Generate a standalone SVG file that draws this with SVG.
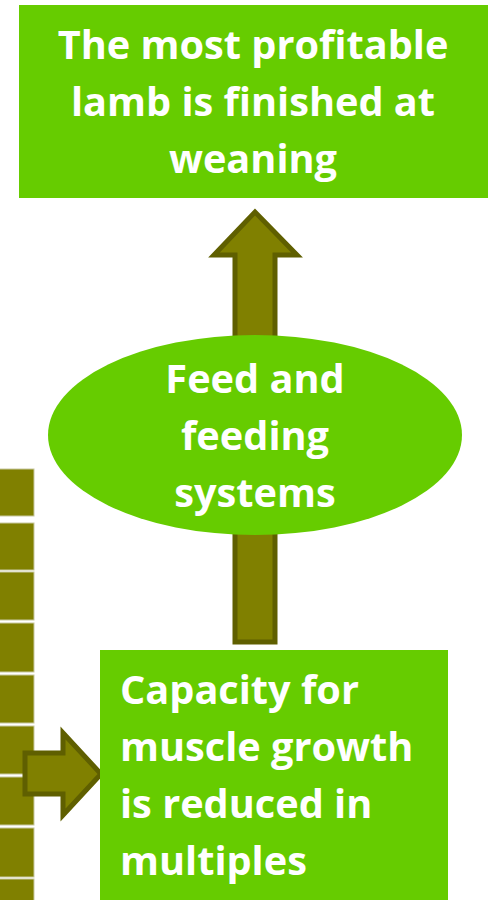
<svg xmlns="http://www.w3.org/2000/svg" width="488" height="900" viewBox="0 0 488 900">
  <style>
    .box { fill: #66cc00; }
    .label { fill: #ffffff; font-family: "Open Sans", "Liberation Sans", sans-serif; font-weight: bold; font-size: 39.7px; }
    .mid { text-anchor: middle; }
    .arrow { fill: #808000; stroke: #5f5f00; stroke-width: 5; stroke-linejoin: miter; }
    .tile { fill: #808000; stroke: #c8c8a0; stroke-width: 1; }
  </style>
  <rect width="488" height="900" fill="#ffffff"/>

  <!-- column of tiles on the left edge -->
  <g id="tiles">
    <rect class="tile" x="-2" y="469" width="36" height="47"/>
    <rect class="tile" x="-2" y="523" width="36" height="47"/>
    <rect class="tile" x="-2" y="572" width="36" height="48"/>
    <rect class="tile" x="-2" y="623" width="36" height="49"/>
    <rect class="tile" x="-2" y="675" width="36" height="48"/>
    <rect class="tile" x="-2" y="726" width="36" height="48"/>
    <rect class="tile" x="-2" y="777" width="36" height="48"/>
    <rect class="tile" x="-2" y="828" width="36" height="49"/>
    <rect class="tile" x="-2" y="879" width="36" height="30"/>
  </g>

  <!-- block arrows -->
  <g id="connectors">
    <polygon class="arrow" points="235,400 235,255 214,255 255,212 297,255 275,255 275,400"/>
    <rect class="arrow" x="235" y="480" width="40" height="162"/>
    <polygon class="arrow" points="25,753 63,753 63,733 101,774 63,815 63,794 25,794"/>
  </g>

  <g id="outcome">
    <rect class="box" x="19" y="5" width="475" height="193"/>
    <text class="label mid" x="253" y="59">The most profitable</text>
    <text class="label mid" x="253" y="116">lamb is finished at</text>
    <text class="label mid" x="253" y="173">weaning</text>
  </g>

  <g id="feed">
    <ellipse class="box" cx="255" cy="435" rx="207" ry="100"/>
    <text class="label mid" x="255" y="393">Feed and</text>
    <text class="label mid" x="255" y="450">feeding</text>
    <text class="label mid" x="255" y="507">systems</text>
  </g>

  <g id="capacity">
    <rect class="box" x="100" y="650" width="348" height="255"/>
    <text class="label" x="120" y="704">Capacity for</text>
    <text class="label" x="120" y="761">muscle growth</text>
    <text class="label" x="120" y="818">is reduced in</text>
    <text class="label" x="120" y="875">multiples</text>
  </g>
</svg>
